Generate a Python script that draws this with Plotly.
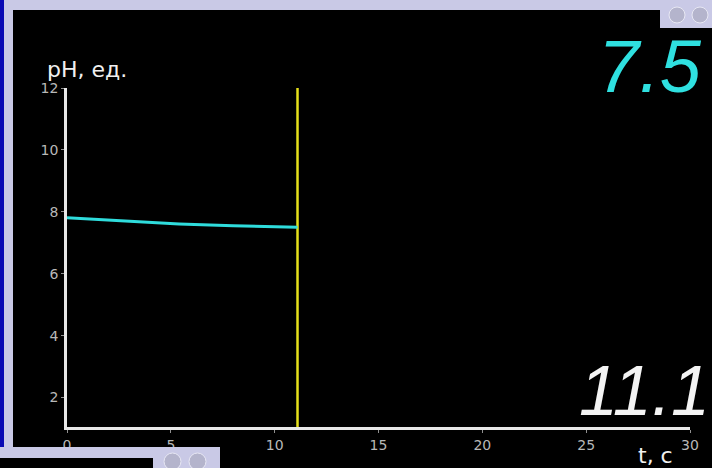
import plotly.graph_objects as go

# ---- data ----
t_values = [0.0, 1.5, 3.2, 5.4, 8.0, 10.0, 11.1]
ph_values = [7.81, 7.75, 7.70, 7.61, 7.55, 7.52, 7.50]
t_current = 11.1
ph_current = "7.5"
t_display = "11.1"
x_ticks = [0, 5, 10, 15, 20, 25, 30]
y_ticks = [2, 4, 6, 8, 10, 12]
x_range = [0, 30]
y_range = [1.05, 12]

W, H = 712, 468
L, R, T, B = 67, 22, 88, 41
pw, ph = W - L - R, H - T - B

def px(x):
    return (x - L) / pw

def py(y):
    return (H - B - y) / ph

fig = go.Figure()
fig.add_trace(go.Scatter(x=[t_current, t_current], y=y_range, mode="lines",
                         line=dict(color="#e6e01a", width=2.5), hoverinfo="skip"))
fig.add_trace(go.Scatter(x=t_values, y=ph_values, mode="lines",
                         line=dict(color="#2fdcdc", width=3), hoverinfo="skip"))

lav = "#c9c9e6"
shapes = [
    dict(type="rect", xref="paper", yref="paper", x0=px(0), x1=px(W), y0=py(10), y1=py(0),
         fillcolor=lav, line_width=0, layer="above"),
    dict(type="rect", xref="paper", yref="paper", x0=px(0), x1=px(13), y0=py(H), y1=py(0),
         fillcolor=lav, line_width=0, layer="above"),
    dict(type="rect", xref="paper", yref="paper", x0=px(0), x1=px(4), y0=py(H), y1=py(0),
         fillcolor="#0a0ab4", line_width=0, layer="above"),
    dict(type="rect", xref="paper", yref="paper", x0=px(660), x1=px(W), y0=py(28), y1=py(0),
         fillcolor=lav, line_width=0, layer="above"),
    dict(type="circle", xref="paper", yref="paper", x0=px(669), x1=px(685), y0=py(23), y1=py(7),
         fillcolor="#b4b4cc", line=dict(color="#e8e8f4", width=1), layer="above"),
    dict(type="circle", xref="paper", yref="paper", x0=px(692), x1=px(708), y0=py(23), y1=py(7),
         fillcolor="#b4b4cc", line=dict(color="#e8e8f4", width=1), layer="above"),
    dict(type="rect", xref="paper", yref="paper", x0=px(0), x1=px(220), y0=py(H), y1=py(447),
         fillcolor=lav, line_width=0, layer="above"),
    dict(type="rect", xref="paper", yref="paper", x0=px(0), x1=px(153), y0=py(H), y1=py(458),
         fillcolor="#000000", line_width=0, layer="above"),
    dict(type="circle", xref="paper", yref="paper", x0=px(164), x1=px(181), y0=py(470), y1=py(453),
         fillcolor="#b4b4cc", line=dict(color="#e8e8f4", width=1), layer="above"),
    dict(type="circle", xref="paper", yref="paper", x0=px(189), x1=px(206), y0=py(470), y1=py(453),
         fillcolor="#b4b4cc", line=dict(color="#e8e8f4", width=1), layer="above"),
]

annotations = [
    dict(text="pH, ед.", xref="paper", yref="paper", x=px(45), y=py(69), xanchor="left",
         yanchor="middle", showarrow=False, font=dict(color="#f0f0f0", size=22, family="DejaVu Sans")),
    dict(text="t, с", xref="paper", yref="paper", x=px(636), y=py(455), xanchor="left",
         yanchor="middle", showarrow=False, font=dict(color="#f0f0f0", size=22, family="DejaVu Sans")),
    dict(text=ph_current, xref="paper", yref="paper", x=px(704), y=py(67), xanchor="right",
         yanchor="middle", showarrow=False,
         font=dict(color="#2fe0e0", size=74, family="Liberation Sans", style="italic")),
    dict(text=t_display, xref="paper", yref="paper", x=px(712), y=py(391), xanchor="right",
         yanchor="middle", showarrow=False,
         font=dict(color="#f4f4f4", size=70, family="Liberation Sans", style="italic")),
]

axis_common = dict(showgrid=False, zeroline=False, showline=True, linecolor="#e8e8e8", linewidth=2.5,
                   ticks="outside", ticklen=3, tickcolor="#909090", tickwidth=1,
                   tickfont=dict(color="#b8b8b8", size=14, family="DejaVu Sans"), fixedrange=True)

fig.update_layout(
    width=W, height=H, autosize=False,
    margin=dict(l=L, r=R, t=T, b=B, pad=0),
    paper_bgcolor="#000000", plot_bgcolor="#000000",
    showlegend=False,
    xaxis=dict(range=x_range, tickvals=x_ticks, **axis_common),
    yaxis=dict(range=y_range, tickvals=y_ticks, **axis_common),
    shapes=shapes, annotations=annotations,
)

fig.write_html("out.html", config={"displayModeBar": False},
               post_script="document.body.style.margin='0';document.body.style.overflow='hidden';")
